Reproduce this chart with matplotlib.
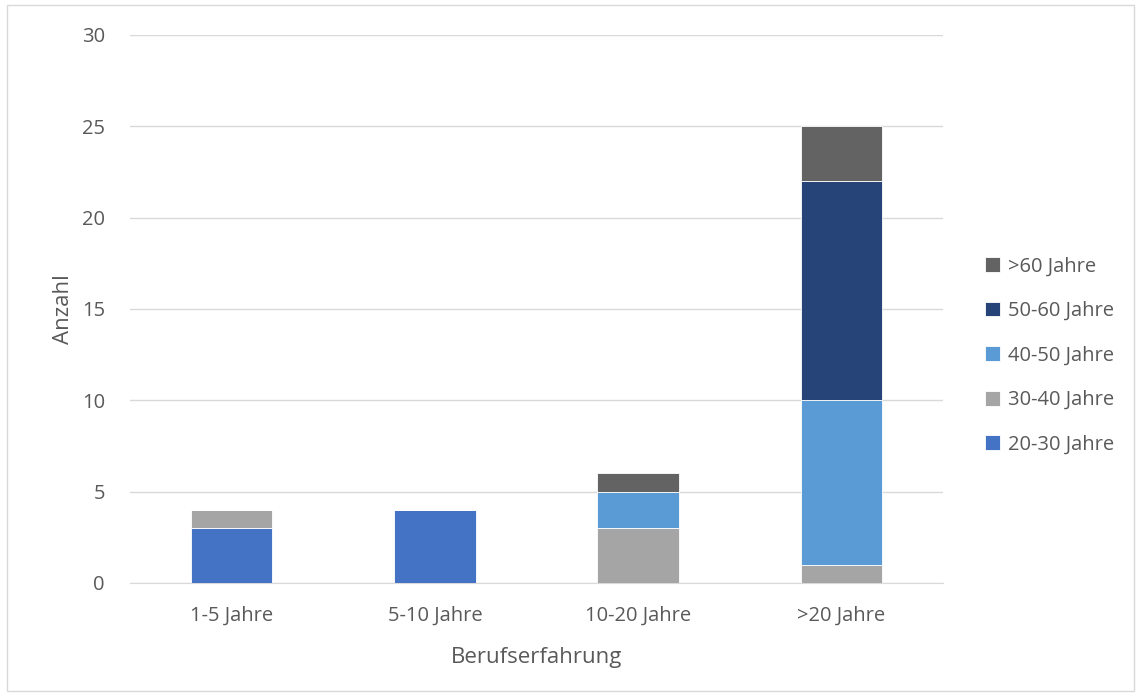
import numpy as np
import matplotlib.pyplot as plt
from matplotlib.patches import Rectangle

# ---------------- Daten ---------------- #
kategorien = ["1-5 Jahre", "5-10 Jahre", "10-20 Jahre", ">20 Jahre"]
gruppen = ["20-30 Jahre", "30-40 Jahre", "40-50 Jahre", "50-60 Jahre", ">60 Jahre"]

w_20_30 = [3, 4, 0, 0]
w_30_40 = [1, 0, 3, 1]
w_40_50 = [0, 0, 2, 9]
w_50_60 = [0, 0, 0, 12]
w_60 = [0, 0, 1, 3]

farben = ["#4472C4", "#A5A5A5", "#5B9BD5", "#264478", "#636363"]
textfarbe = "#595959"

plt.rcParams['font.family'] = ['Open Sans', 'DejaVu Sans']

fig = plt.figure(figsize=(11.41, 6.96), dpi=100)
ax = fig.add_axes([130 / 1141, 1 - 583 / 696, (943 - 130) / 1141, (583 - 35) / 696])

# Rahmen um die Grafik
fig.patches.append(Rectangle((7 / 1141, 1 - 691 / 696), 1127 / 1141, 686 / 696,
                             transform=fig.transFigure, fill=False,
                             edgecolor="#D9D9D9", linewidth=1))

x = np.arange(len(kategorien))
bottom = np.zeros(len(kategorien))
handles = []
for werte, name, f in zip([w_20_30, w_30_40, w_40_50, w_50_60, w_60], gruppen, farben):
    werte = np.array(werte, dtype=float)
    b = ax.bar(x, werte, 0.4, bottom=bottom, color=f, edgecolor="white",
               linewidth=0.6, label=name, zorder=3)
    handles.append(b)
    bottom += werte

ax.set_ylim(0, 30)
ax.set_xlim(-0.5, 3.5)
ax.set_yticks(range(0, 31, 5))
ax.set_xticks(x)
ax.set_xticklabels(kategorien)
ax.grid(axis="y", color="#D9D9D9", linewidth=1, zorder=0)
for s in ["top", "right", "left"]:
    ax.spines[s].set_visible(False)
ax.spines["bottom"].set_color("#D9D9D9")
ax.tick_params(axis="both", length=0, labelsize=14.5, colors=textfarbe)
ax.tick_params(axis="y", pad=18)
ax.tick_params(axis="x", pad=16)

ax.set_xlabel("Berufserfahrung", fontsize=16, color=textfarbe, labelpad=16)
ax.set_ylabel("Anzahl", fontsize=16, color=textfarbe, labelpad=6)

leg = ax.legend(handles[::-1], gruppen[::-1], loc="center left",
                bbox_to_anchor=(1.029, 0.415), frameon=False, fontsize=14.5,
                handlelength=0.75, handleheight=0.75, handletextpad=0.4,
                labelspacing=1.22, labelcolor=textfarbe)

fig.savefig("out.png", dpi=100)
